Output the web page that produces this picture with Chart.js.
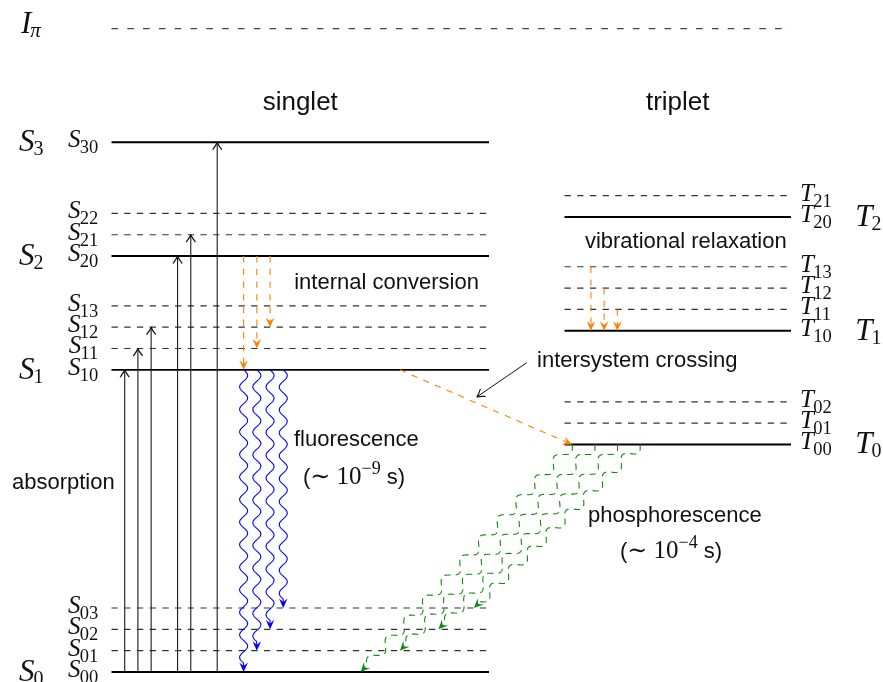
<!DOCTYPE html>
<html>
<head>
<meta charset="utf-8">
<script src="https://cdn.jsdelivr.net/npm/chart.js@4.4.1/dist/chart.umd.min.js"></script>
<style>
  html, body { margin: 0; padding: 0; background: #fff; }
  #wrap { width: 883px; height: 682px; }
</style>
</head>
<body>
<div id="wrap"><canvas id="jablonski" width="883" height="682"></canvas></div>
<script>
// ---- Energy levels (energy units; vibrational sublevels listed one by one) ----
const singletLevelNames  = ['S00', 'S01', 'S02', 'S03', 'S10', 'S11', 'S12', 'S13', 'S20', 'S21', 'S22', 'S30'];
const singletLevelEnergy = [0, 0.3, 0.6, 0.9, 4.25, 4.55, 4.85, 5.15, 5.85, 6.15, 6.45, 7.45];
const tripletLevelNames  = ['T00', 'T01', 'T02', 'T10', 'T11', 'T12', 'T13', 'T20', 'T21'];
const tripletLevelEnergy = [3.2, 3.5, 3.8, 4.8, 5.1, 5.4, 5.7, 6.4, 6.7];
const singletStates      = ['S0', 'S1', 'S2', 'S3'];
const singletStateEnergy = [0, 4.25, 5.85, 7.45];
const tripletStates      = ['T0', 'T1', 'T2'];
const tripletStateEnergy = [3.2, 4.8, 6.4];
const ionizationEnergy   = 9.05;

// ---- Transitions (x = horizontal position along the diagram) ----
const absorptionX      = [0.175, 0.35, 0.525, 0.875, 1.05, 1.4];
const absorptionTo     = ['S10', 'S11', 'S12', 'S20', 'S21', 'S30'];
const internalConvX    = [1.75, 1.925, 2.1];
const internalConvTo   = ['S10', 'S11', 'S12'];
const fluorescenceX    = [1.75, 1.925, 2.1, 2.275];
const fluorescenceTo   = ['S00', 'S01', 'S02', 'S03'];
const vibRelaxX        = [6.35, 6.525, 6.7];
const vibRelaxFrom     = ['T13', 'T12', 'T11'];
const phosphorFromX    = [6.1, 6.4, 6.7, 7.0];
const phosphorToX      = [3.3, 3.82, 4.33, 4.8];
const phosphorTo       = ['S00', 'S01', 'S02', 'S03'];
const iscFromX = 3.82, iscToX = 6.1;

const energyOf = {};
singletLevelNames.forEach((n, i) => { energyOf[n] = singletLevelEnergy[i]; });
tripletLevelNames.forEach((n, i) => { energyOf[n] = tripletLevelEnergy[i]; });

// horizontal extents of the level lines
const SPAN_S = [0, 5], SPAN_T = [6, 9], SPAN_I = [0, 9];
const ORANGE = '#ff8000', BLUE = '#0000ff', GREEN = '#118a11', INK = '#111';

function levelLine(span, e, solid) {
  return {
    data: [{ x: span[0], y: e }, { x: span[1], y: e }],
    borderColor: solid ? '#000' : '#333',
    borderWidth: solid ? 1.9 : 1.2,
    borderDash: solid ? [] : [6.35, 6.35],
    pointRadius: 0, fill: false, tension: 0
  };
}

const datasets = [];
singletLevelNames.forEach((n, i) => datasets.push(levelLine(SPAN_S, singletLevelEnergy[i], n.endsWith('0'))));
tripletLevelNames.forEach((n, i) => datasets.push(levelLine(SPAN_T, tripletLevelEnergy[i], n.endsWith('0'))));
datasets.push(Object.assign(levelLine(SPAN_I, ionizationEnergy, false), { borderDash: [6.6, 9.2], borderColor: '#444' }));

// ---- drawing helpers ----
function unit(p0, p1) {
  const dx = p1.x - p0.x, dy = p1.y - p0.y, L = Math.hypot(dx, dy);
  return { ux: dx / L, uy: dy / L, L };
}
const HEAD_LEN = 9.5, HEAD_HALF = 4.3;
function stealthHead(ctx, tip, ux, uy, color) {
  const nx = -uy, ny = ux;
  const bx = tip.x - ux * HEAD_LEN, by = tip.y - uy * HEAD_LEN;
  const mx = tip.x - ux * HEAD_LEN * 0.62, my = tip.y - uy * HEAD_LEN * 0.62;
  ctx.save();
  ctx.setLineDash([]);
  ctx.fillStyle = color;
  ctx.beginPath();
  ctx.moveTo(tip.x, tip.y);
  ctx.lineTo(bx + nx * HEAD_HALF, by + ny * HEAD_HALF);
  ctx.lineTo(mx, my);
  ctx.lineTo(bx - nx * HEAD_HALF, by - ny * HEAD_HALF);
  ctx.closePath();
  ctx.fill();
  ctx.restore();
}
function toHead(ctx, tip, ux, uy, color, lw) {
  const nx = -uy, ny = ux, len = 7, w = 4.3;
  ctx.save();
  ctx.setLineDash([]);
  ctx.strokeStyle = color; ctx.lineWidth = lw * 1.15; ctx.lineCap = 'round';
  ctx.beginPath();
  for (const s of [1, -1]) {
    ctx.moveTo(tip.x - ux * len + nx * w * s, tip.y - uy * len + ny * w * s);
    ctx.quadraticCurveTo(tip.x - ux * len * 0.35 + nx * w * 0.2 * s, tip.y - uy * len * 0.35 + ny * w * 0.2 * s, tip.x, tip.y);
  }
  ctx.stroke();
  ctx.restore();
}
function straightArrow(ctx, p0, p1, color, lw, dash, head) {
  const { ux, uy } = unit(p0, p1);
  const back = head === 'stealth' ? HEAD_LEN * 0.62 : 0;
  ctx.save();
  ctx.strokeStyle = color; ctx.lineWidth = lw;
  ctx.setLineDash(dash);
  ctx.beginPath();
  ctx.moveTo(p0.x, p0.y);
  ctx.lineTo(p1.x - ux * back, p1.y - uy * back);
  ctx.stroke();
  ctx.restore();
  if (head === 'stealth') stealthHead(ctx, p1, ux, uy, color);
  else toHead(ctx, p1, ux, uy, color, lw);
}
function wavyArrow(ctx, p0, p1, color, lw, dash, amp, wl, post) {
  const { ux, uy, L } = unit(p0, p1);
  const nx = uy, ny = -ux;
  const waveLen = L - post;
  const halves = Math.max(1, Math.round(2 * waveLen / wl));
  const w = 2 * waveLen / halves;
  const back = HEAD_LEN * 0.62;
  ctx.save();
  ctx.strokeStyle = color; ctx.lineWidth = lw; ctx.setLineDash(dash);
  ctx.lineJoin = 'round';
  ctx.beginPath();
  ctx.moveTo(p0.x, p0.y);
  for (let s = 0.5; s <= waveLen; s += 0.5) {
    const off = amp * Math.sin(2 * Math.PI * s / w);
    ctx.lineTo(p0.x + ux * s + nx * off, p0.y + uy * s + ny * off);
  }
  ctx.lineTo(p1.x - ux * back, p1.y - uy * back);
  ctx.stroke();
  ctx.restore();
  stealthHead(ctx, p1, ux, uy, color);
}
// italic letter with a subscript, e.g. S_{30}
function mathLabel(ctx, letter, sub, subItalic, px, baseY, size, subSize, subDrop, align) {
  const fL = `italic ${size}px "Liberation Serif"`;
  const fS = `${subItalic ? 'italic ' : ''}${subSize}px "Liberation Serif"`;
  ctx.font = fL; const wL = ctx.measureText(letter).width;
  ctx.font = fS; const wS = ctx.measureText(sub).width;
  const x0 = align === 'right' ? px - (wL + wS) : px;
  ctx.fillStyle = INK; ctx.textAlign = 'left'; ctx.textBaseline = 'alphabetic';
  ctx.font = fL; ctx.fillText(letter, x0, baseY);
  ctx.font = fS; ctx.fillText(sub, x0 + wL - size * 0.03, baseY + subDrop);
}
function sansText(ctx, text, px, py, size, align) {
  ctx.font = `${size}px "Liberation Sans"`;
  ctx.fillStyle = INK; ctx.textAlign = align; ctx.textBaseline = 'alphabetic';
  ctx.fillText(text, px, py);
}
// "(∼ 10^{exp} s)"
function timeLabel(ctx, exp, px, py) {
  const parts = [
    ['(', '22px "Liberation Sans"', 0],
    ['\u223C', '24px "DejaVu Serif"', 0],
    [' ', '22px "Liberation Sans"', 0],
    ['10', '25px "Liberation Serif"', 0],
    ['\u2212' + exp, '18px "Liberation Serif"', -10],
    [' s)', '22px "Liberation Sans"', 0]
  ];
  ctx.fillStyle = INK; ctx.textAlign = 'left'; ctx.textBaseline = 'alphabetic';
  let x = px;
  for (const [t, f, dy] of parts) {
    ctx.font = f; ctx.fillText(t, x, py + dy); x += ctx.measureText(t).width;
  }
}

const diagram = {
  id: 'diagram',
  afterDatasetsDraw(chart) {
    const ctx = chart.ctx;
    const xs = chart.scales.x, ys = chart.scales.y;
    const P = (x, e) => ({ x: xs.getPixelForValue(x), y: ys.getPixelForValue(e) });
    ctx.save();

    // absorption
    absorptionX.forEach((x, i) => straightArrow(ctx, P(x, energyOf.S00), P(x, energyOf[absorptionTo[i]]), '#1a1a1a', 1.1, [], 'to'));
    // internal conversion
    internalConvX.forEach((x, i) => straightArrow(ctx, P(x, energyOf.S20), P(x, energyOf[internalConvTo[i]]), ORANGE, 1.1, [6.35, 6.35], 'stealth'));
    // vibrational relaxation
    vibRelaxX.forEach((x, i) => straightArrow(ctx, P(x, energyOf[vibRelaxFrom[i]]), P(x, energyOf.T10), ORANGE, 1.1, [6.35, 6.35], 'stealth'));
    // fluorescence
    fluorescenceX.forEach((x, i) => wavyArrow(ctx, P(x, energyOf.S10), P(x, energyOf[fluorescenceTo[i]]), BLUE, 1.1, [], 4, 22.5, 9));
    // intersystem crossing
    straightArrow(ctx, P(iscFromX, energyOf.S10), P(iscToX, energyOf.T00), ORANGE, 1.1, [6.35, 6.35], 'stealth');
    // phosphorescence
    phosphorFromX.forEach((x, i) => wavyArrow(ctx, P(x, energyOf.T00), P(phosphorToX[i], energyOf[phosphorTo[i]]), GREEN, 1.1, [6.35, 5], 5, 27, 9));
    // pointer to the crossing arrow
    straightArrow(ctx, P(5.5, 4.35), P(4.84, 3.87), '#111', 1, [], 'to');

    // level names
    singletLevelNames.forEach((n, i) => {
      const y = P(0, singletLevelEnergy[i]).y;
      mathLabel(ctx, n[0], n.slice(1), false, P(-0.166, 0).x, y + 5, 25, 18.5, 6, 'right');
    });
    tripletLevelNames.forEach((n, i) => {
      const y = P(0, tripletLevelEnergy[i]).y;
      mathLabel(ctx, n[0], n.slice(1), false, P(9.12, 0).x, y + 5, 25, 18.5, 6, 'left');
    });
    singletStates.forEach((n, i) => {
      const y = P(0, singletStateEnergy[i]).y;
      mathLabel(ctx, n[0], n.slice(1), false, P(-1.225, 0).x, y + 9, 31, 20, 4, 'left');
    });
    tripletStates.forEach((n, i) => {
      const y = P(0, tripletStateEnergy[i]).y;
      mathLabel(ctx, n[0], n.slice(1), false, P(9.85, 0).x, y + 9, 31, 20, 4, 'left');
    });
    mathLabel(ctx, 'I', '\u03C0', true, P(-1.2, 0).x, P(0, ionizationEnergy).y + 4, 31, 21, 4, 'left');

    // process labels
    sansText(ctx, 'singlet', P(2.5, 0).x, P(0, 7.9).y, 26, 'center');
    sansText(ctx, 'triplet', P(7.5, 0).x, P(0, 7.9).y, 26, 'center');
    sansText(ctx, 'internal conversion', P(2.42, 0).x, P(0, 5.39).y, 22, 'left');
    sansText(ctx, 'vibrational relaxation', P(6.27, 0).x, P(0, 5.963).y, 22, 'left');
    sansText(ctx, 'intersystem crossing', P(5.636, 0).x, P(0, 4.29).y, 22, 'left');
    sansText(ctx, 'fluorescence', P(2.417, 0).x, P(0, 3.179).y, 22, 'left');
    timeLabel(ctx, '9', P(2.536, 0).x, P(0, 2.644).y);
    sansText(ctx, 'absorption', P(-1.318, 0).x, P(0, 2.574).y, 22, 'left');
    sansText(ctx, 'phosphorescence', P(6.311, 0).x, P(0, 2.11).y, 22, 'left');
    timeLabel(ctx, '4', P(6.735, 0).x, P(0, 1.603).y);

    ctx.restore();
  }
};

new Chart(document.getElementById('jablonski'), {
  type: 'line',
  data: { datasets },
  options: {
    responsive: false,
    animation: false,
    events: [],
    layout: { padding: 0 },
    plugins: { legend: { display: false }, tooltip: { enabled: false } },
    scales: {
      x: { type: 'linear', display: false, min: -1.4768, max: 10.2185 },
      y: { type: 'linear', display: false, min: -0.1406, max: 9.4515 }
    }
  },
  plugins: [diagram]
});
</script>
</body>
</html>
